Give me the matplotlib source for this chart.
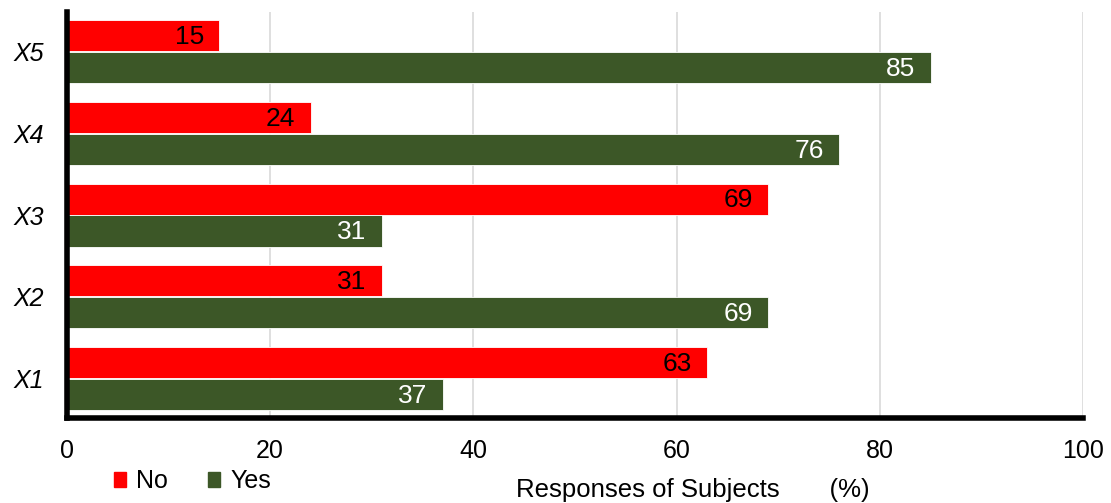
import matplotlib.pyplot as plt
import numpy as np
from matplotlib.patches import Patch

plt.rcParams['font.family'] = ['Liberation Sans', 'DejaVu Sans']

categories = ['X1', 'X2', 'X3', 'X4', 'X5']
no_vals = [63, 31, 69, 24, 15]
yes_vals = [37, 69, 31, 76, 85]

red = '#ff0000'
green = '#3c5727'

fig = plt.figure(figsize=(11.11, 5.03), dpi=100)
ax = fig.add_axes([0.060, 0.169, 0.915, 0.807])

y = np.arange(len(categories))
h = 0.38
off = 0.195
bars_no = ax.barh(y + off, no_vals, height=h, color=red, edgecolor='white', linewidth=0.6, zorder=3)
bars_yes = ax.barh(y - off, yes_vals, height=h, color=green, edgecolor='white', linewidth=0.6, zorder=3)

# value labels sit just inside the end of each bar
for b, v in zip(bars_no, no_vals):
    ax.annotate(str(v), (v, b.get_y() + b.get_height() / 2), xytext=(-11, -1),
                textcoords='offset points', ha='right', va='center',
                fontsize=19, color='black', zorder=4)
for b, v in zip(bars_yes, yes_vals):
    ax.annotate(str(v), (v, b.get_y() + b.get_height() / 2), xytext=(-11, -1),
                textcoords='offset points', ha='right', va='center',
                fontsize=19, color='white', zorder=4)

ax.set_xlim(0, 100)
ax.set_ylim(-0.48, 4.48)
ax.set_xticks(np.arange(0, 101, 20))
ax.set_yticks(y)
ax.set_yticklabels(categories, fontstyle='italic')
ax.tick_params(axis='both', length=0, labelsize=18)
ax.tick_params(axis='x', pad=15)
ax.tick_params(axis='y', pad=16)

ax.grid(axis='x', color='#d9d9d9', linewidth=1.2, zorder=0)
for s in ['top', 'right']:
    ax.spines[s].set_visible(False)
for s in ['left', 'bottom']:
    ax.spines[s].set_linewidth(4)
    ax.spines[s].set_color('black')
    ax.spines[s].set_zorder(5)

handles = [Patch(color=red, label='No'), Patch(color=green, label='Yes')]
fig.legend(handles=handles, loc='center left', bbox_to_anchor=(0.082, 0.043),
           ncol=2, frameon=False, fontsize=18, handlelength=0.5, handleheight=0.5,
           handletextpad=0.4, columnspacing=1.6)

fig.text(0.624, 0.025, 'Responses of Subjects       (%)', ha='center', va='center', fontsize=18.5)

fig.savefig('out.png', dpi=100, facecolor='white')
